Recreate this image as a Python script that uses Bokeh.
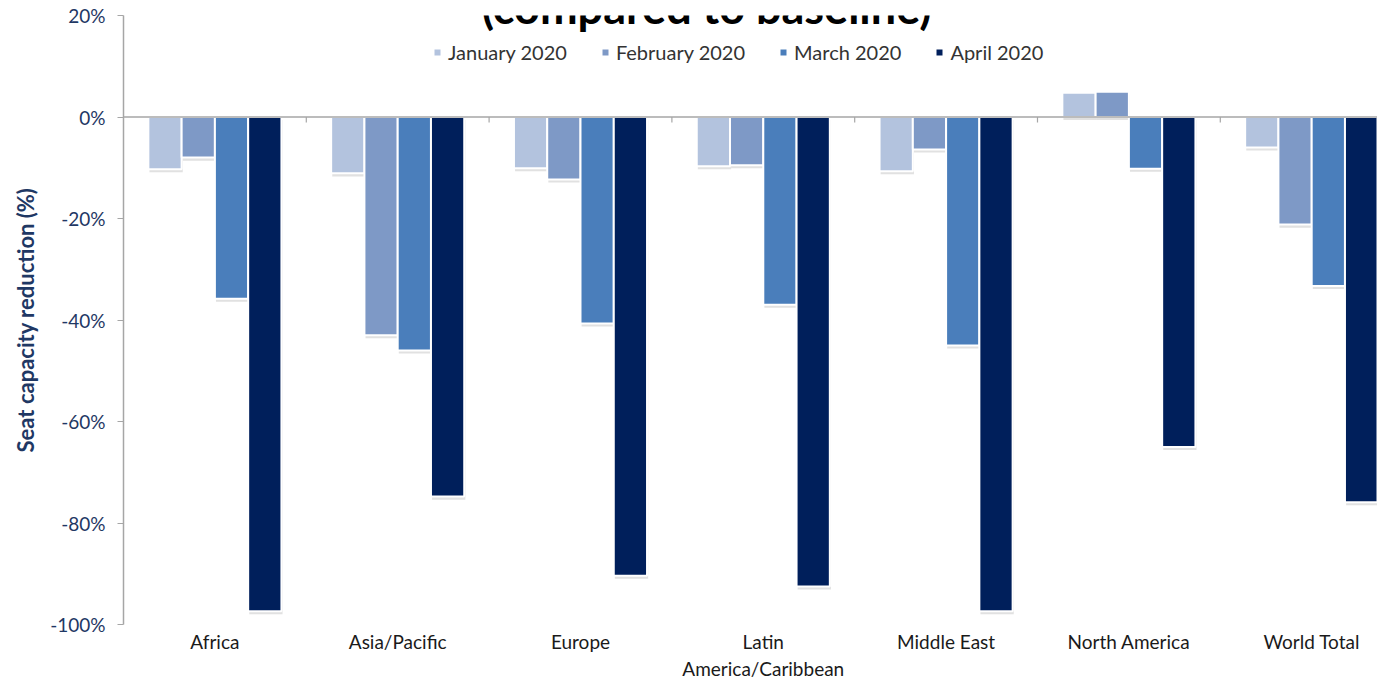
import numpy as np
from bokeh.plotting import figure
from bokeh.models import (Range1d, FixedTicker, PrintfTickFormatter, Span,
                          Legend, LegendItem, Label, ColumnDataSource)
from bokeh.embed import file_html
from bokeh.resources import INLINE

# ---- data ----
regions = ["Africa", "Asia/Pacific", "Europe", "Latin\nAmerica/Caribbean",
           "Middle East", "North America", "World Total"]
series_names = ["January 2020", "February 2020", "March 2020", "April 2020"]
jan_2020 = [-10.3, -11.1, -10.1, -9.7, -10.7, 4.8, -6.0]
feb_2020 = [-8.0, -43.0, -12.3, -9.5, -6.4, 5.0, -21.2]
mar_2020 = [-35.8, -46.0, -40.7, -37.0, -45.0, -10.2, -33.3]
apr_2020 = [-97.4, -74.8, -90.4, -92.5, -97.4, -65.0, -75.9]
y_ticks = [-100, -80, -60, -40, -20, 0, 20]

colors = ["#b3c3de", "#7e99c6", "#4a7ebb", "#001f5b"]
FONT = "Lato"
NAVY = "#1f3864"
AXIS_GRAY = "#a6a6a6"

p = figure(width=1377, height=683, output_backend="svg", toolbar_location=None,
           x_range=Range1d(0, 6.86), y_range=Range1d(-100, 20),
           min_border_left=123, min_border_right=0, min_border_top=15,
           min_border_bottom=56)
p.outline_line_color = None
p.xgrid.visible = False
p.ygrid.visible = False
p.background_fill_color = "white"

n = len(regions)
centers = np.arange(n) + 0.5
bar_w = 0.182
offsets = [-1.5 * bar_w, -0.5 * bar_w, 0.5 * bar_w, 1.5 * bar_w]
all_series = [jan_2020, feb_2020, mar_2020, apr_2020]

# soft drop shadows
for vals, off in zip(all_series, offsets):
    v = np.array(vals)
    src = ColumnDataSource(dict(x=centers + off + 0.006,
                                top=np.maximum(v, 0) - 0.6,
                                bottom=np.minimum(v, 0) - 0.6))
    p.vbar(x="x", top="top", bottom="bottom", width=bar_w, source=src,
           fill_color="#c4c4c4", fill_alpha=0.5, line_color=None)

renderers = []
for vals, off, c in zip(all_series, offsets, colors):
    src = ColumnDataSource(dict(x=centers + off, top=vals))
    r = p.vbar(x="x", top="top", bottom=0, width=bar_w, source=src,
               fill_color=c, line_color="white", line_width=2)
    renderers.append(r)

# zero baseline with category-boundary ticks
p.add_layout(Span(location=0, dimension="width", line_color=AXIS_GRAY, line_width=1.5))
bounds = np.arange(1, n)
p.segment(x0=bounds, y0=np.zeros(n - 1), x1=bounds, y1=np.full(n - 1, -1.1),
          line_color=AXIS_GRAY, line_width=1.2)

# bottom axis: category labels only
xa = p.xaxis[0]
xa.ticker = FixedTicker(ticks=list(centers))
xa.major_label_overrides = {float(c): r for c, r in zip(centers, regions)}
xa.axis_line_color = None
xa.major_tick_line_color = None
xa.major_tick_out = 0
xa.major_tick_in = 0
xa.minor_tick_line_color = None
xa.minor_tick_out = 0
xa.major_label_text_font = FONT
xa.major_label_text_font_size = "19px"
xa.major_label_text_color = "#1a1a1a"
xa.major_label_standoff = 5

ya = p.yaxis[0]
ya.ticker = FixedTicker(ticks=y_ticks)
ya.formatter = PrintfTickFormatter(format="%d%%")
ya.axis_line_color = AXIS_GRAY
ya.axis_line_width = 1.5
ya.major_tick_line_color = AXIS_GRAY
ya.major_tick_out = 6
ya.major_tick_in = 0
ya.minor_tick_line_color = None
ya.major_label_text_font = FONT
ya.major_label_text_font_size = "19px"
ya.major_label_text_color = NAVY
ya.major_label_standoff = 12
ya.axis_label = "Seat capacity reduction (%)"
ya.axis_label_text_font = FONT
ya.axis_label_text_font_size = "22px"
ya.axis_label_text_font_style = "bold"
ya.axis_label_text_color = NAVY
ya.axis_label_standoff = 8

legend = Legend(items=[LegendItem(label=s, renderers=[r]) for s, r in zip(series_names, renderers)],
                orientation="horizontal", location=(309, 560),
                border_line_color=None, background_fill_alpha=0,
                glyph_width=10, glyph_height=10, label_standoff=6, spacing=33,
                padding=0, margin=0,
                label_text_font=FONT, label_text_font_size="20px",
                label_text_color="#333333")
p.add_layout(legend, "center")

title = Label(x=3.19, y=21.6, text="(compared to baseline)", text_align="center",
              text_baseline="alphabetic", text_font=FONT, text_font_size="45px",
              text_font_style="bold", text_color="black")
p.add_layout(title)

open("out.html", "w").write(file_html(p, INLINE))
